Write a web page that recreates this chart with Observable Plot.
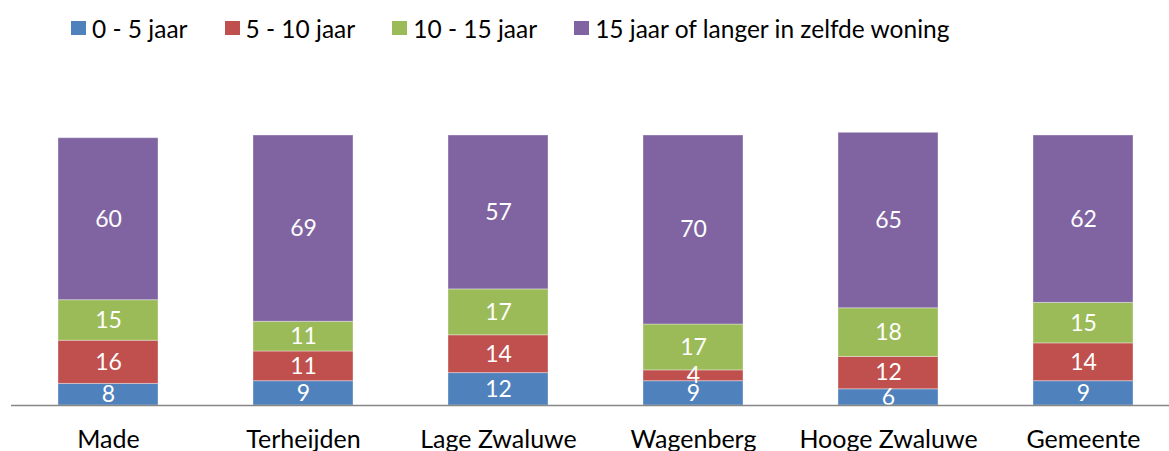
<!DOCTYPE html>
<html>
<head>
<meta charset="utf-8">
<script src="https://cdn.jsdelivr.net/npm/d3@7"></script>
<script src="https://cdn.jsdelivr.net/npm/@observablehq/plot@0.6"></script>
<style>
  html, body { margin: 0; padding: 0; background: #fff; }
  body { width: 1169px; height: 451px; overflow: hidden; font-family: Lato, "Open Sans", sans-serif; }
  #legend { height: 56px; display: flex; align-items: center; padding-left: 71px; box-sizing: border-box; font-size: 24.5px; color: #000; }
  .item { display: flex; align-items: center; margin-right: 37px; }
  .sw { width: 15px; height: 14px; margin-right: 6px; }
</style>
</head>
<body>
<div id="legend"></div>
<div id="chart"></div>
<script>
const categories = ["Made", "Terheijden", "Lage Zwaluwe", "Wagenberg", "Hooge Zwaluwe", "Gemeente"];
const seriesNames = ["0 - 5 jaar", "5 - 10 jaar", "10 - 15 jaar", "15 jaar of langer in zelfde woning"];
const colors = ["#4F81BD", "#C0504D", "#9BBB59", "#8064A2"];
const s0_5 = [8, 9, 12, 9, 6, 9];
const s5_10 = [16, 11, 14, 4, 12, 14];
const s10_15 = [15, 11, 17, 17, 18, 15];
const s15plus = [60, 69, 57, 70, 65, 62];

const seriesValues = [s0_5, s5_10, s10_15, s15plus];
const data = [];
categories.forEach((c, i) => {
  seriesNames.forEach((s, j) => {
    data.push({category: c, series: s, value: seriesValues[j][i]});
  });
});

// legend
const legend = document.getElementById("legend");
seriesNames.forEach((s, j) => {
  const it = document.createElement("div");
  it.className = "item";
  const sw = document.createElement("div");
  sw.className = "sw";
  sw.style.background = colors[j];
  const t = document.createElement("span");
  t.textContent = s;
  it.appendChild(sw);
  it.appendChild(t);
  legend.appendChild(it);
});

const chart = Plot.plot({
  width: 1169,
  height: 395,
  marginTop: 79,
  marginBottom: 46,
  marginLeft: 11,
  marginRight: 0,
  style: {fontFamily: "Lato, 'Open Sans', sans-serif", background: "#fff"},
  x: {domain: categories, range: [10.5, 1180.5], paddingInner: 0.487, paddingOuter: 0.2435, axis: null},
  y: {domain: [0, 100], axis: null},
  color: {domain: seriesNames, range: colors},
  marks: [
    Plot.barY(data, Plot.stackY({x: "category", y: "value", fill: "series", z: "series", order: seriesNames, stroke: "#fff", strokeOpacity: 0.35, strokeWidth: 1})),
    Plot.text(data, Plot.stackY({x: "category", y: "value", z: "series", order: seriesNames, text: d => String(d.value), fill: "#fff", fontSize: 23})),
    Plot.ruleY([0], {stroke: "#868686", strokeWidth: 1.5}),
    Plot.text(categories, {x: d => d, y: 0, text: d => d, dy: 42, lineAnchor: "bottom", fontSize: 25, fill: "#000"})
  ]
});
document.getElementById("chart").appendChild(chart);
</script>
</body>
</html>
